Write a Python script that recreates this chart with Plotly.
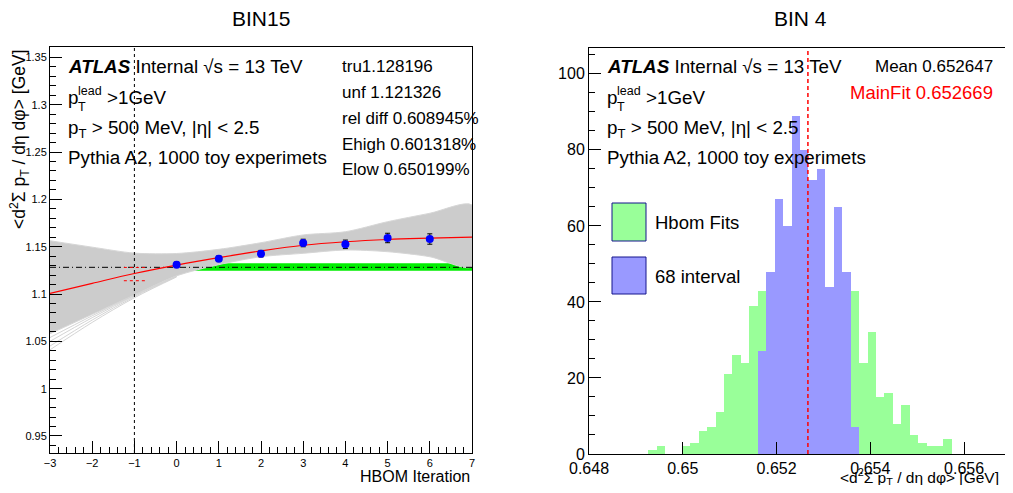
import plotly.graph_objects as go

# the page puts the plot 8px in from the top-left corner (body margin), so the
# figure is made smaller than the 1013x493 window and everything is shifted by 8px
PAGE_PAD = 8
W, H = 1013 - PAGE_PAD, 493 - 2 * PAGE_PAD

# --------------------------------------------------------------------
# Left panel (BIN15): HBOM iterations, fit and toy-fit band
# --------------------------------------------------------------------
iterations = [0, 1, 2, 3, 4, 5, 6]
hbom_values = [1.1310, 1.1373, 1.1426, 1.1539, 1.1525, 1.1592, 1.1581]
hbom_errors = [0.0028, 0.0030, 0.0035, 0.0040, 0.0045, 0.0050, 0.0055]

fit_x = [-3, -2, -1, 0, 1, 2, 3, 4, 5, 6, 7]
fit_y = [1.1007, 1.1113, 1.1217, 1.1306, 1.1384, 1.1455, 1.1515, 1.1552, 1.1576, 1.1590, 1.1602]

# envelope of the 1000 toy fits (grey band)
toy_hi = [1.1563, 1.1495, 1.1432, 1.1428, 1.1472, 1.1542, 1.1624, 1.1658, 1.1764, 1.1853, 1.1940]
toy_lo = [1.0580, 1.0785, 1.0990, 1.1192, 1.1310, 1.1394, 1.1430, 1.1465, 1.1447, 1.1394, 1.1289]

# a few stray toy curves on the low side, x = -3..0
stray_x = [-3, -2, -1, 0]
stray_curves = [
    [1.0410, 1.0700, 1.0960, 1.1180],
    [1.0450, 1.0725, 1.0972, 1.1185],
    [1.0500, 1.0750, 1.0982, 1.1188],
    [1.0540, 1.0770, 1.0988, 1.1190],
]

band_x = [-3, 7]
band_lo = [1.1245, 1.1245]
band_hi = [1.1325, 1.1325]

tru = 1.128196
unf = 1.121326
rel_diff = 0.608945
e_high = 0.601318
e_low = 0.650199
unf_iter = -1
marker_span = [-1.25, -0.75]

# --------------------------------------------------------------------
# Right panel (BIN 4): distribution of HBOM fits, 50 bins
# --------------------------------------------------------------------
hist_min = 0.648
hist_width = 0.00018
hbom_counts = [0, 0, 0, 0, 0, 0, 0, 1, 2, 0,
               0, 2, 3, 6, 7, 11, 21, 26, 24, 39,
               43, 48, 67, 60, 89, 80, 72, 75, 44, 65,
               48, 43, 24, 32, 15, 16, 8, 13, 5, 3,
               2, 2, 4, 0, 0, 0, 0, 0, 0, 0]
interval_counts = [0, 0, 0, 0, 0, 0, 0, 0, 0, 0,
                   0, 0, 0, 0, 0, 0, 0, 0, 0, 0,
                   27, 48, 67, 60, 89, 80, 72, 75, 44, 65,
                   48, 7, 0, 0, 0, 0, 0, 0, 0, 0,
                   0, 0, 0, 0, 0, 0, 0, 0, 0, 0]
hist_mean = 0.652647
main_fit = 0.652669

bin_centers = [hist_min + (i + 0.5) * hist_width for i in range(len(hbom_counts))]

FONT = "Liberation Sans, Arial, Helvetica, sans-serif"


def px(x):
    return (x - PAGE_PAD) / W


def py(y):
    return 1 - (y - PAGE_PAD) / H


fig = go.Figure()

# green band
fig.add_trace(go.Scatter(
    x=band_x + band_x[::-1], y=band_hi + band_lo[::-1],
    fill="toself", fillcolor="rgb(0,238,0)", line=dict(width=0),
    mode="lines", hoverinfo="skip", xaxis="x", yaxis="y"))

# toy fit band
fig.add_trace(go.Scatter(
    x=fit_x + fit_x[::-1], y=toy_hi + toy_lo[::-1],
    fill="toself", fillcolor="rgb(204,204,204)",
    line=dict(width=1, color="rgb(214,214,214)", shape="spline", smoothing=0.8),
    mode="lines", hoverinfo="skip", xaxis="x", yaxis="y"))

for curve in stray_curves:
    fig.add_trace(go.Scatter(
        x=stray_x, y=curve, mode="lines",
        line=dict(width=1, color="rgb(212,212,212)", shape="spline"),
        hoverinfo="skip", xaxis="x", yaxis="y"))

# truth level
fig.add_trace(go.Scatter(
    x=[fit_x[0], fit_x[-1]], y=[tru, tru], mode="lines",
    line=dict(color="black", width=1, dash="6px,3px,1px,3px"),
    xaxis="x", yaxis="y"))

# error markers around the unfolded value
for lvl in [unf * (1 + e_high / 100), unf * (1 - e_low / 100)]:
    fig.add_trace(go.Scatter(
        x=marker_span, y=[lvl, lvl], mode="lines",
        line=dict(color="red", width=1, dash="dot"),
        xaxis="x", yaxis="y"))

# fit
fig.add_trace(go.Scatter(
    x=fit_x, y=fit_y, mode="lines",
    line=dict(color="red", width=1.2, shape="spline"),
    xaxis="x", yaxis="y"))

# HBOM points
fig.add_trace(go.Scatter(
    x=iterations, y=hbom_values, mode="markers",
    marker=dict(color="blue", size=8),
    error_y=dict(type="data", array=hbom_errors, color="black", thickness=1, width=2.5),
    xaxis="x", yaxis="y"))

# histograms
fig.add_trace(go.Bar(
    x=bin_centers, y=hbom_counts, width=hist_width,
    marker=dict(color="rgb(153,255,153)", line=dict(width=0)),
    xaxis="x2", yaxis="y2"))
fig.add_trace(go.Bar(
    x=bin_centers, y=interval_counts, width=hist_width,
    marker=dict(color="rgb(153,153,255)", line=dict(width=0)),
    xaxis="x2", yaxis="y2"))

fig.add_shape(type="line", xref="x", yref="y domain", x0=unf_iter, x1=unf_iter, y0=0, y1=1,
              line=dict(color="black", width=1, dash="3px,3px"))
fig.add_shape(type="line", xref="x2", yref="y2 domain", x0=main_fit, x1=main_fit, y0=0, y1=1,
              line=dict(color="red", width=1.5, dash="4px,3px"))

# legend boxes (ROOT style)
fig.add_shape(type="rect", xref="paper", yref="paper",
              x0=px(612), x1=px(646), y0=py(241), y1=py(203),
              fillcolor="rgb(153,255,153)", line=dict(color="rgb(20,20,140)", width=1))
fig.add_shape(type="rect", xref="paper", yref="paper",
              x0=px(612), x1=px(646), y0=py(294), y1=py(257),
              fillcolor="rgb(153,153,255)", line=dict(color="rgb(20,20,140)", width=1))

axis_common = dict(showgrid=False, zeroline=False, showline=True, mirror=True,
                   linecolor="black", linewidth=1, ticks="inside", tickcolor="black",
                   automargin=False)

fig.update_layout(
    width=W, height=H, margin=dict(l=0, r=0, t=0, b=0, autoexpand=False),
    paper_bgcolor="white", plot_bgcolor="white", showlegend=False,
    barmode="overlay", bargap=0,
    font=dict(family=FONT, color="black"),
    xaxis=dict(domain=[px(50), px(472)], range=[-3, 7], anchor="y",
               tick0=-3, dtick=1, ticklen=12, tickfont=dict(size=11),
               minor=dict(ticks="inside", ticklen=6, dtick=0.2, tickcolor="black"),
               **axis_common),
    yaxis=dict(domain=[py(453), py(47)], range=[0.932, 1.361], anchor="x",
               tick0=0.95, dtick=0.05, ticklen=12, tickfont=dict(size=11),
               minor=dict(ticks="inside", ticklen=6, dtick=0.01, tickcolor="black"),
               **axis_common),
    xaxis2=dict(domain=[px(589), px(1011)], range=[0.648, 0.657], anchor="y2",
                tick0=0.648, dtick=0.002, ticklen=12, tickfont=dict(size=16),
                **axis_common),
    yaxis2=dict(domain=[py(454), py(48)], range=[0, 106.8], anchor="x2",
                tick0=0, dtick=20, ticklen=12, tickfont=dict(size=16),
                minor=dict(ticks="inside", ticklen=6, dtick=5, tickcolor="black"),
                **axis_common),
)


def label(x, y, text, size=18.8, color="black", anchor="left", angle=0, yanchor="middle"):
    fig.add_annotation(x=px(x), y=py(y), xref="paper", yref="paper", text=text,
                       showarrow=False, xanchor=anchor, yanchor=yanchor, textangle=angle,
                       font=dict(size=size, color=color, family=FONT))


# titles
label(261, 18, "BIN15", size=21, anchor="center")
label(800, 18, "BIN 4", size=21, anchor="center")

# ATLAS blocks
for x0 in [66, 605]:
    label(x0, 66.5, "<b><i>ATLAS</i></b> Internal √s = 13 TeV")
    label(x0, 97.5, "p")
    label(x0 + 10, 91, "lead", size=12.5)
    label(x0 + 10, 107, "T", size=12.5)
    label(x0 + 39, 97.5, "&gt;1GeV")
    label(x0, 128.5, "p<sub>T</sub> &gt; 500 MeV, |η| &lt; 2.5")
    label(x0, 157.5, "Pythia A2, 1000 toy experimets")

# left panel numbers
label(340, 66.5, f"tru{tru:.6f}", size=17)
label(340, 92.5, f"unf {unf:.6f}", size=17)
label(340, 119, f"rel diff {rel_diff:.6f}%", size=17)
label(340, 144, f"Ehigh {e_high:.6f}%", size=17)
label(340, 169, f"Elow {e_low:.6f}%", size=17)

# right panel numbers
label(995, 66.5, f"Mean {hist_mean:.6f}", size=17, anchor="right")
label(995, 92.5, f"MainFit {main_fit:.6f}", size=18.5, color="red", anchor="right")

# legend text
label(653, 222.5, "Hbom Fits", size=18.5)
label(653, 276.5, "68 interval", size=18.5)

# axis titles
ytitle = "&lt;d<sup>2</sup>Σ p<sub>T</sub> / dη dφ&gt; [GeV]"
label(19, 47, ytitle, size=17.5, anchor="center", angle=-90, yanchor="top")
label(472, 476, "HBOM Iteration", size=16, anchor="right")
label(1001, 477, ytitle, size=15.5, anchor="right")

fig.write_html("out.html")
